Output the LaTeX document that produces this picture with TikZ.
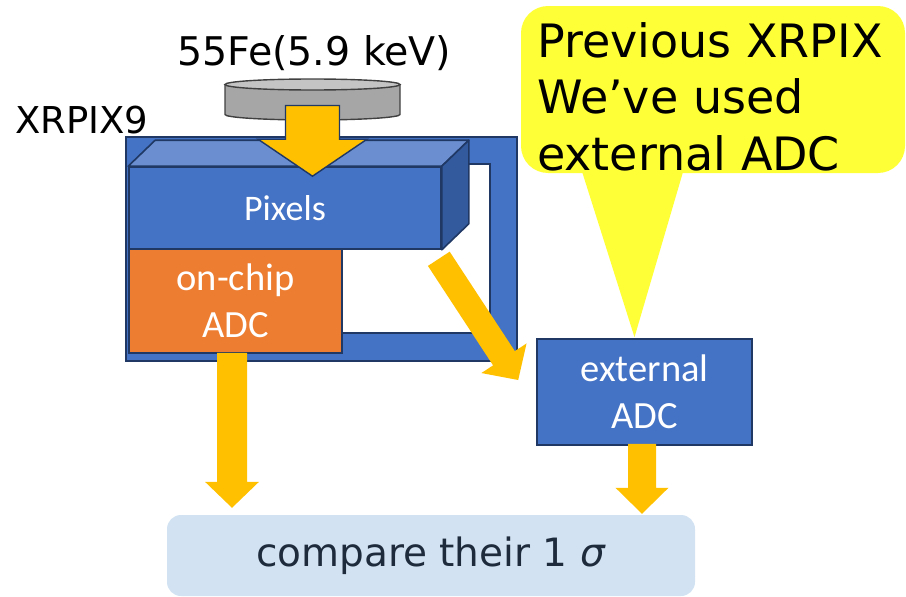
\documentclass[tikz,border=0pt]{standalone}
\usepackage{fontspec}
\setmainfont{DejaVu Sans}
\newfontfamily\boxfont{Carlito}
\usetikzlibrary{calc}

\definecolor{chipblue}{HTML}{4472C4}
\definecolor{topblue}{HTML}{6A8ECF}
\definecolor{sideblue}{HTML}{335A9C}
\definecolor{navy}{HTML}{1F3864}
\definecolor{adcorange}{HTML}{ED7D31}
\definecolor{arrowgold}{HTML}{FFC000}
\definecolor{noteyellow}{HTML}{FFFF38}
\definecolor{resultblue}{HTML}{D2E2F2}
\definecolor{resultink}{HTML}{1E2B3C}
\definecolor{diskgray}{HTML}{A6A6A6}
\definecolor{disktop}{HTML}{C4C4C4}
\definecolor{diskedge}{HTML}{404040}

% block arrow: style, start, tip, half shaft width, half head width, head length
\newcommand{\blockarrow}[6]{%
  \coordinate (ba-h) at ($(#3)!#6!(#2)$);
  \path[#1] ($(#2)!#4!90:(#3)$) -- ($(ba-h)!#4!90:(#3)$) -- ($(ba-h)!#5!90:(#3)$)
    -- (#3) -- ($(ba-h)!#5!-90:(#3)$) -- ($(ba-h)!#4!-90:(#3)$)
    -- ($(#2)!#4!-90:(#3)$) -- cycle;
}

\begin{document}
\begin{tikzpicture}[x=1pt,y=-1pt,
  chipbox/.style={draw=navy, line width=1.6pt, fill=chipblue, inner sep=0pt},
  topface/.style={draw=navy, line width=1.6pt, fill=topblue, line join=round},
  sideface/.style={draw=navy, line width=1.6pt, fill=sideblue, line join=round},
  adcbox/.style={draw=navy, line width=1.6pt, fill=adcorange, inner sep=0pt,
    text=white, align=center, font=\boxfont\fontsize{38.5}{46.5}\selectfont},
  extbox/.style={draw=navy, line width=1.6pt, fill=chipblue, inner sep=0pt,
    text=white, align=center, font=\boxfont\fontsize{38.5}{46.5}\selectfont},
  flow/.style={fill=arrowgold},
  flowedged/.style={fill=arrowgold, draw=navy, line width=1.4pt, line join=miter},
  resultbox/.style={fill=resultblue, rounded corners=14pt, inner sep=0pt,
    text=resultink, font=\fontsize{39}{46}\selectfont},
  biglabel/.style={inner sep=0pt, text=black}
]
\useasboundingbox (0,0) rectangle (906,597);

% chip outline with its open frame
\node[chipbox, minimum width=391pt, minimum height=224pt] (chip) at (321.5,249) {};
\draw[fill=white, draw=navy, line width=1.6pt]
  ([xshift=-28pt,yshift=-28pt]chip.north east) rectangle ([xshift=74pt,yshift=29pt]chip.south west);

% pixel array as a slab
\node[chipbox, minimum width=312pt, minimum height=82pt, text=white,
      font=\boxfont\fontsize{36}{42}\selectfont] (pixels) at (285,208) {Pixels};
\draw[topface] (pixels.north west) -- ++(27,-26) -- ($(pixels.north east)+(27,-26)$)
  -- (pixels.north east) -- cycle;
\draw[sideface] (pixels.north east) -- ++(27,-26) -- ($(pixels.south east)+(27,-26)$)
  -- (pixels.south east) -- cycle;

% on-chip ADC
\node[adcbox, minimum width=213pt, minimum height=104pt] (onchip) at (235.5,301) {on-chip\\ADC};

% 55Fe source disk
\coordinate (disk) at (312.5,84.5);
\fill[diskgray] ($(disk)+(-87.5,0)$) -- ($(disk)+(-87.5,30)$)
  arc[start angle=180, end angle=360, x radius=87.5pt, y radius=5.5pt] -- ($(disk)+(87.5,0)$) -- cycle;
\draw[diskedge, line width=1.4pt] ($(disk)+(-87.5,0)$) -- ($(disk)+(-87.5,30)$)
  arc[start angle=180, end angle=360, x radius=87.5pt, y radius=5.5pt] -- ($(disk)+(87.5,0)$);
\draw[diskedge, fill=disktop, line width=1.4pt] (disk) ellipse[x radius=87.5pt, y radius=5.5pt];

\node[biglabel, anchor=base west, font=\fontsize{39.5}{46}\selectfont] (srclabel) at (177,65) {55Fe(5.9 keV)};
\node[biglabel, anchor=base west, font=\fontsize{37}{44}\selectfont] (chiplabel) at (15,133) {XRPIX9};

% x-rays from the source into the pixels
\coordinate (srcfoot) at ($(disk)+(0,21)$);
\coordinate (pixtop) at (disk |- pixels.north);
\coordinate (srctip) at ([yshift=-10pt]pixtop);
\blockarrow{flowedged}{srcfoot}{srctip}{27pt}{54.5pt}{37pt}

% callout
\node[fill=noteyellow, rounded corners=27pt, minimum width=384pt, minimum height=167pt,
      inner sep=0pt] (callout) at (713,89.5) {};
\coordinate (calloutL) at ([xshift=-133pt,yshift=8pt]callout.south);
\coordinate (calloutR) at ([xshift=-28pt,yshift=8pt]callout.south);

% external ADC
\node[extbox, minimum width=215pt, minimum height=106pt] (ext) at (644.5,392) {external\\ADC};
\fill[noteyellow] (calloutL) -- ([xshift=-10pt,yshift=1pt]ext.north) -- (calloutR) -- cycle;
\node[biglabel, anchor=north west, align=left, font=\fontsize{46}{56.5}\selectfont]
  (note) at (537,22) {Previous XRPIX\\We’ve used\\external ADC};

% readout paths
\coordinate (diagS) at ([xshift=-3pt,yshift=-9pt]pixels.south east);
\coordinate (diagT) at ([xshift=-18pt,yshift=12pt]ext.west);
\blockarrow{flow}{diagS}{diagT}{13pt}{27pt}{26pt}

% comparison of the two readouts
\node[resultbox, minimum width=528pt, minimum height=81pt] (compare) at (431,555.5)
  {compare their 1 \textit{σ}};

\coordinate (leftS) at ([xshift=-3.5pt,yshift=1pt]onchip.south);
\coordinate (leftB) at (leftS |- compare.north);
\coordinate (leftT) at ([yshift=7pt]leftB);
\blockarrow{flow}{leftS}{leftT}{15pt}{27pt}{26pt}

\coordinate (rightS) at ([xshift=-2.5pt,yshift=2pt]ext.south);
\coordinate (rightB) at (rightS |- compare.north);
\coordinate (rightT) at ([yshift=1pt]rightB);
\blockarrow{flow}{rightS}{rightT}{14pt}{26.5pt}{26pt}
\end{tikzpicture}
\end{document}
